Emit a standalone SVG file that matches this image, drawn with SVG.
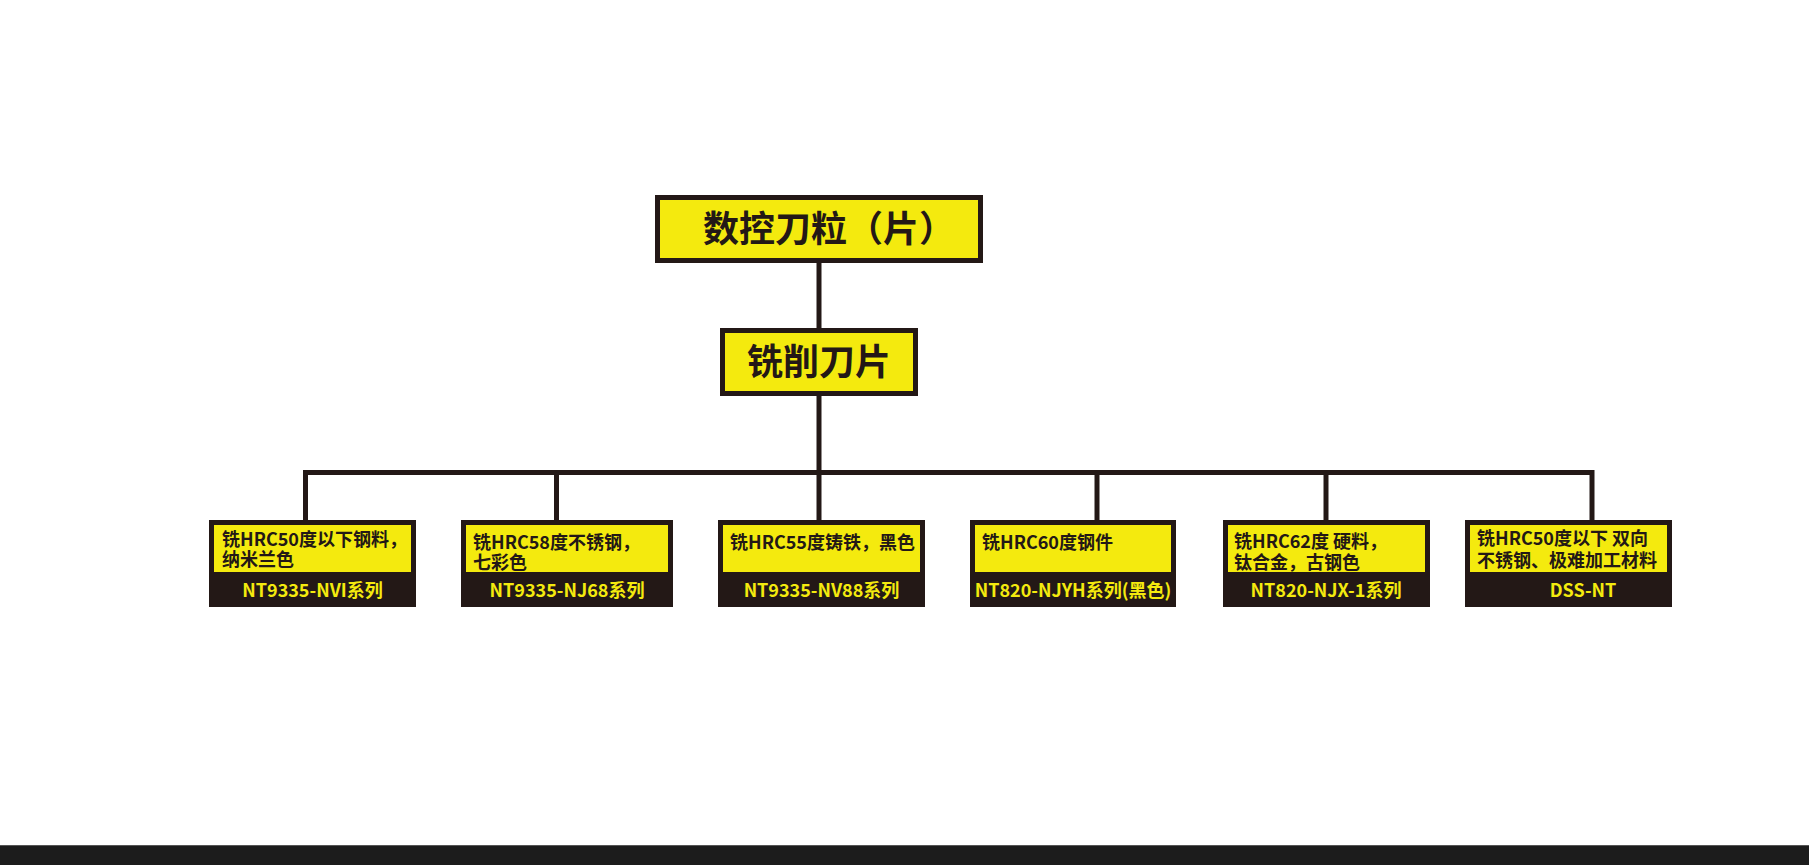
<svg xmlns="http://www.w3.org/2000/svg" width="1809" height="865" viewBox="0 0 1809 865">
<style>
.main{fill:#f4ea0e;stroke:#231816;stroke-width:5}
.dk{fill:#231816}
.yl{fill:#f4ea0e}
.t{font-family:"Noto Sans CJK SC","Noto Sans",sans-serif;font-weight:bold;fill:#231816}
.big{font-size:36px;text-anchor:middle}
.sm{font-size:18px}
.bt{font-family:"Noto Sans CJK SC","Noto Sans",sans-serif;font-weight:bold;font-size:18px;fill:#f4ea0e;text-anchor:middle}
.ln{stroke:#231816;stroke-width:5;fill:none}
</style>
<rect width="1809" height="865" fill="#ffffff"/>
<g id="connectors">
<line class="ln" x1="819" y1="262" x2="819" y2="330" stroke-width="6"/>
<line class="ln" x1="819" y1="395" x2="819" y2="521"/>
<polyline class="ln" points="305.5,521 305.5,472.5 1592,472.5 1592,521"/>
<line class="ln" x1="556.5" y1="472.5" x2="556.5" y2="521"/>
<line class="ln" x1="1097" y1="472.5" x2="1097" y2="521"/>
<line class="ln" x1="1326" y1="472.5" x2="1326" y2="521"/>
</g>
<g id="root">
<rect class="main" x="657.5" y="197.5" width="323" height="63"/>
<text class="t big" x="829" y="242" font-size="35">数控刀粒（片）</text>
</g>
<g id="milling">
<rect class="main" x="722.5" y="330.5" width="193" height="63"/>
<text class="t big" x="819" y="375">铣削刀片</text>
</g>
<g id="n1">
<rect class="dk" x="209" y="520" width="207" height="87"/>
<rect class="yl" x="214" y="525" width="197" height="47"/>
<text class="t sm" x="222" y="546">铣HRC50度以下钢料，<tspan x="222" dy="20">纳米兰色</tspan></text>
<text class="bt" x="312.5" y="597">NT9335-NVI系列</text>
</g>
<g id="n2">
<rect class="dk" x="461" y="520" width="212" height="87"/>
<rect class="yl" x="466" y="525" width="202" height="47"/>
<text class="t sm" x="473" y="549">铣HRC58度不锈钢，<tspan x="473" dy="20">七彩色</tspan></text>
<text class="bt" x="567" y="597">NT9335-NJ68系列</text>
</g>
<g id="n3">
<rect class="dk" x="718" y="520" width="207" height="87"/>
<rect class="yl" x="723" y="525" width="197" height="47"/>
<text class="t sm" x="730" y="549">铣HRC55度铸铁，黑色</text>
<text class="bt" x="821.5" y="597">NT9335-NV88系列</text>
</g>
<g id="n4">
<rect class="dk" x="970" y="520" width="206" height="87"/>
<rect class="yl" x="975" y="525" width="196" height="47"/>
<text class="t sm" x="982" y="549">铣HRC60度钢件</text>
<text class="bt" x="1073" y="597">NT820-NJYH系列(黑色)</text>
</g>
<g id="n5">
<rect class="dk" x="1223" y="520" width="207" height="87"/>
<rect class="yl" x="1228" y="525" width="197" height="47"/>
<text class="t sm" x="1234" y="548">铣HRC62度 硬料，<tspan x="1234" dy="21">钛合金，古钢色</tspan></text>
<text class="bt" x="1326" y="597">NT820-NJX-1系列</text>
</g>
<g id="n6">
<rect class="dk" x="1465" y="520" width="207" height="87"/>
<rect class="yl" x="1470" y="525" width="197" height="47"/>
<text class="t sm" x="1477" y="545">铣HRC50度以下 双向<tspan x="1477" dy="22">不锈钢、极难加工材料</tspan></text>
<text class="bt" x="1583" y="597">DSS-NT</text>
</g>
<rect x="0" y="845" width="1809" height="20" fill="#1c1c1c"/>
<rect x="0" y="845" width="1809" height="1" fill="#555555"/>
</svg>
